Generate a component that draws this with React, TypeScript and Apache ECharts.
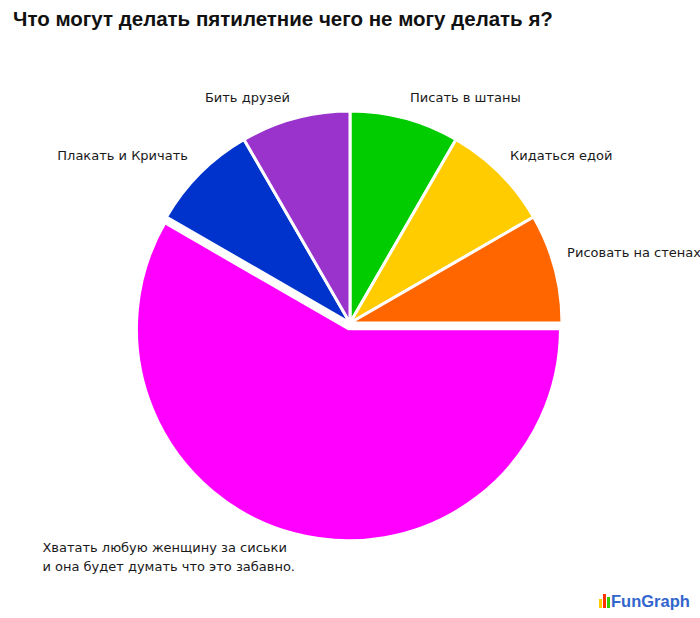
import React, { useEffect, useRef } from "react";
import * as echarts from "echarts";

const TITLE = "Что могут делать пятилетние чего не могу делать я?";
const categories = [
  "Писать в штаны",
  "Кидаться едой",
  "Рисовать на стенах",
  "Хватать любую женщину за сиськи\nи она будет думать что это забавно.",
  "Плакать и Кричать",
  "Бить друзей",
];
const values = [1, 1, 1, 7, 1, 1];
const colors = ["#00CC00", "#FFCC00", "#FF6600", "#FF00FF", "#0033CC", "#9933CC"];
const selectedIndex = 3;
// label nudges (dx, dy) relative to ECharts' default outside placement
const labelNudge: [number, number][] = [
  [-5, -1],
  [-9, -3],
  [-12, -10],
  [-241, 4],
  [7, -3],
  [5, -1],
];

export default function App() {
  const ref = useRef<HTMLDivElement>(null);
  useEffect(() => {
    if (!ref.current) return;
    const chart = echarts.init(ref.current, undefined, { renderer: "svg" });
    chart.setOption({
      animation: false,
      backgroundColor: "#ffffff",
      title: {
        text: TITLE,
        left: 8,
        top: 3,
        textStyle: {
          fontFamily: "Liberation Sans, Arial, sans-serif",
          fontWeight: "bold",
          fontSize: 20.5,
          color: "#111111",
        },
      },
      series: [
        {
          type: "pie",
          center: [350, 323],
          radius: 212,
          startAngle: 90,
          clockwise: true,
          avoidLabelOverlap: false,
          selectedMode: "single",
          selectedOffset: 6,
          itemStyle: { borderColor: "#ffffff", borderWidth: 3 },
          emphasis: { disabled: true },
          label: {
            show: true,
            position: "outside",
            fontFamily: "DejaVu Sans, Verdana, sans-serif",
            fontSize: 13,
            lineHeight: 19,
            color: "#1a1a1a",
          },
          labelLine: { show: false, length: 20, length2: 0 },
          labelLayout: (params: any) => {
            const n = labelNudge[params.dataIndex];
            const out: any = { dx: n[0], dy: n[1] };
            if (params.dataIndex === selectedIndex) out.align = "left";
            return out;
          },
          data: categories.map((name, i) => ({
            name,
            value: values[i],
            selected: i === selectedIndex,
            itemStyle: { color: colors[i] },
          })),
        },
      ],
      graphic: [
        { type: "rect", shape: { x: 599, y: 599, width: 3, height: 9 }, style: { fill: "#FFCC00" } },
        { type: "rect", shape: { x: 603, y: 594, width: 3, height: 14 }, style: { fill: "#FF3300" } },
        { type: "rect", shape: { x: 607, y: 597, width: 3, height: 11 }, style: { fill: "#33CC00" } },
        {
          type: "text",
          x: 611,
          y: 601,
          style: {
            text: "FunGraph",
            fontFamily: "Liberation Sans, Arial, sans-serif",
            fontWeight: "bold",
            fontSize: 16.5,
            fill: "#3366CC",
            verticalAlign: "middle",
            align: "left",
          },
        },
      ],
    });
    return () => chart.dispose();
  }, []);
  return (
    <div
      ref={ref}
      style={{ position: "absolute", left: 0, top: 0, width: 700, height: 618 }}
    />
  );
}
